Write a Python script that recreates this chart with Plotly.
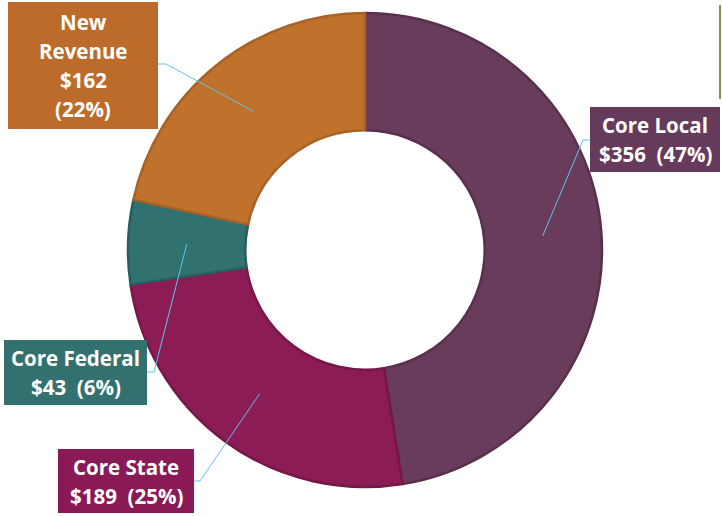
import plotly.graph_objects as go
import math

# Revenue sources (in $ millions), clockwise from 12 o'clock
labels = ["Core Local", "Core State", "Core Federal", "New Revenue"]
values = [356, 189, 43, 162]
slice_colors = ["#693C5C", "#8C1C55", "#317170", "#C0722D"]
edge_colors = ["#58304D", "#761746", "#285E5D", "#A86226"]
box_colors = ["#663A5A", "#8A1A55", "#337171", "#BC6B2A"]
box_text = [
    ["Core Local", "${v}\u00a0 ({p}%)"],
    ["Core State", "${v}\u00a0 ({p}%)"],
    ["Core Federal", "${v}\u00a0 ({p}%)"],
    ["New", "Revenue", "${v}", "({p}%)"],
]

W, H = 722, 516
CX, CY, R = 365, 250, 237
HOLE = 0.505


def px(x):
    return x / W


def py(y):
    return 1 - y / H


# label box geometry in pixels: left, top, right, bottom, and leader start/elbow
boxes = [
    dict(l=590, t=107, r=720, b=172, start=(590, 140), elbow=(583, 140)),
    dict(l=58, t=449, r=194, b=513, start=(194, 481), elbow=(200, 481)),
    dict(l=4, t=340, r=147, b=405, start=(147, 372), elbow=(154, 372)),
    dict(l=8, t=2, r=158, b=129, start=(158, 64), elbow=(166, 64)),
]

fig = go.Figure()
fig.add_trace(go.Pie(
    labels=labels,
    values=values,
    sort=False,
    direction="clockwise",
    rotation=0,
    hole=HOLE,
    textinfo="none",
    hoverinfo="label+value+percent",
    marker=dict(colors=slice_colors, line=dict(color=edge_colors, width=2.5)),
    domain=dict(x=[px(CX - R), px(CX + R)], y=[py(CY + R), py(CY - R)]),
    showlegend=False,
))

total = sum(values)
shapes = []
annotations = []
cum = 0.0
r_mid = R * (1 + HOLE) / 2
for i, v in enumerate(values):
    frac = v / total
    mid = (cum + frac / 2) * 2 * math.pi
    cum += frac
    ax = CX + r_mid * math.sin(mid)
    ay = CY - r_mid * math.cos(mid)
    b = boxes[i]
    pct = round(frac * 100)
    lines = [s.format(v=v, p=pct) for s in box_text[i]]

    # label box
    shapes.append(dict(type="rect", xref="paper", yref="paper",
                       x0=px(b["l"]), x1=px(b["r"]), y0=py(b["b"]), y1=py(b["t"]),
                       fillcolor=box_colors[i], line=dict(width=0), layer="above"))
    # leader line
    sx, sy = b["start"]
    ex, ey = b["elbow"]
    shapes.append(dict(type="path", xref="paper", yref="paper",
                       path=f"M {px(sx)} {py(sy)} L {px(ex)} {py(ey)} L {px(ax)} {py(ay)}",
                       line=dict(color="#5CC6EE", width=1), layer="above"))
    # text lines
    n = len(lines)
    step = 29
    mid_y = (b["t"] + b["b"]) / 2
    for k, s in enumerate(lines):
        yk = mid_y + (k - (n - 1) / 2) * step
        annotations.append(dict(xref="paper", yref="paper",
                                x=px((b["l"] + b["r"]) / 2), y=py(yk),
                                xanchor="center", yanchor="middle",
                                text=f"<b>{s}</b>", showarrow=False,
                                font=dict(family="Open Sans", size=20.5, color="white")))

# green rule at the top right edge
shapes.append(dict(type="line", xref="paper", yref="paper",
                   x0=px(720), x1=px(720), y0=py(5), y1=py(99),
                   line=dict(color="#7A9E3B", width=2)))

fig.update_layout(
    width=W, height=H,
    margin=dict(l=0, r=0, t=0, b=0),
    paper_bgcolor="white",
    plot_bgcolor="white",
    shapes=shapes,
    annotations=annotations,
)

fig.write_html("out.html")
